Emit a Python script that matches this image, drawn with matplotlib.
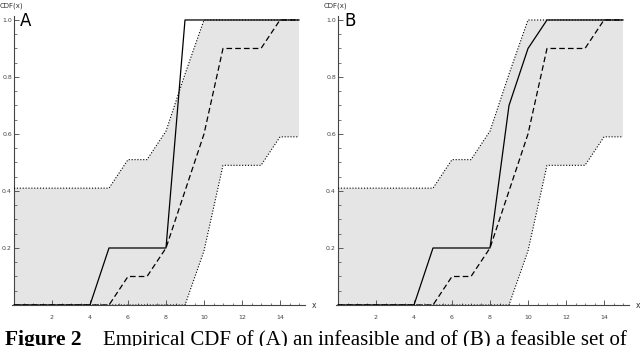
#!/usr/bin/env python3
# -*- coding: utf-8 -*-

import numpy as np
import matplotlib
matplotlib.use("Agg")
import matplotlib.pyplot as plt
from matplotlib.ticker import FixedLocator, MultipleLocator

DPI = 100
W, H = 640, 346

# bounds of the band (dotted lines)
upper_x = [0, 5, 6, 7, 8, 9, 10, 15]
upper_y = [0.41, 0.41, 0.51, 0.51, 0.61, 0.81, 1.0, 1.0]
lower_x = [0, 9, 10, 11, 13, 14, 15]
lower_y = [0, 0, 0.19, 0.49, 0.49, 0.59, 0.59]

# reference CDF (dashed), same on both panels
ref_x = [0, 5, 6, 7, 8, 9, 10, 11, 13, 14, 15]
ref_y = [0, 0, 0.1, 0.1, 0.2, 0.4, 0.6, 0.9, 0.9, 1.0, 1.0]

# empirical CDFs (solid)
a_x = [0, 4, 5, 8, 9, 15]
a_y = [0, 0, 0.2, 0.2, 1.0, 1.0]
b_x = [0, 4, 5, 8, 9, 10, 11, 15]
b_y = [0, 0, 0.2, 0.2, 0.7, 0.9, 1.0, 1.0]

x_ticks = [2, 4, 6, 8, 10, 12, 14]
y_ticks = [0.2, 0.4, 0.6, 0.8, 1.0]
y_tick_labels = ["0.2", "0.4", "0.6", "0.8", "1.0"]


def px(x, y):
    # pixel coords (from top-left) -> figure fraction
    return x / W, 1 - y / H


def panel(fig, left_px, cdf_x, cdf_y, letter):
    x0 = left_px - 1.9
    l, b = px(x0, 305)
    ax = fig.add_axes([l, b, 292.6 / W, 289.3 / H])
    ax.set_xlim(-0.1, 15.3)
    ax.set_ylim(0, 1.015)

    band_x = np.r_[upper_x, lower_x[::-1]]
    band_y = np.r_[upper_y, lower_y[::-1]]
    ax.fill(band_x, band_y, color="#e5e5e6", lw=0, zorder=1)

    ax.plot(upper_x, upper_y, color="black", lw=0.8, dashes=(1, 1.6), zorder=3)
    ax.plot(lower_x, lower_y, color="black", lw=0.8, dashes=(1, 1.6), zorder=3)
    ax.plot(ref_x, ref_y, color="black", lw=0.9, dashes=(4.5, 2.5), zorder=4)
    ax.plot(cdf_x, cdf_y, color="black", lw=0.9, zorder=5)

    for s in ["top", "right"]:
        ax.spines[s].set_visible(False)
    ax.spines["left"].set_position(("data", 0))
    ax.spines["bottom"].set_position(("data", 0))
    ax.spines["left"].set_linewidth(0.8)
    ax.spines["bottom"].set_linewidth(0.8)
    ax.spines["left"].set_color("#444444")
    ax.spines["bottom"].set_color("#444444")

    ax.xaxis.set_major_locator(FixedLocator(x_ticks))
    ax.xaxis.set_minor_locator(MultipleLocator(0.5))
    ax.yaxis.set_major_locator(FixedLocator(y_ticks))
    ax.set_yticklabels(y_tick_labels)
    ax.yaxis.set_minor_locator(MultipleLocator(0.05))
    ax.tick_params(which="major", direction="in", length=3.5, width=0.6,
                   labelsize=4.5, colors="#444444")
    ax.tick_params(axis="x", which="major", pad=7)
    ax.tick_params(axis="y", which="major", pad=1.5)
    ax.tick_params(which="minor", direction="in", length=1.8, width=0.5,
                   colors="#444444")
    ax.patch.set_visible(False)

    tx, ty = px(left_px + 6, 21)
    fig.text(tx, ty, letter, fontsize=12, va="center", ha="left",
             family="DejaVu Sans")
    tx, ty = px(left_px - 14, 6)
    fig.text(tx, ty, "CDF(x)", fontsize=5, va="center", ha="left",
             color="#333333")
    tx, ty = px(left_px + 298, 305)
    fig.text(tx, ty, "x", fontsize=5.5, va="center", ha="left",
             color="#333333")
    return ax


def main():
    fig = plt.figure(figsize=(W / DPI, H / DPI), dpi=DPI)

    panel(fig, 14, a_x, a_y, "A")
    panel(fig, 338, b_x, b_y, "B")

    x, y = px(5, 345)
    fig.text(x, y, "Figure 2", fontsize=15.5, fontweight="bold",
             family="Liberation Serif", va="baseline")
    x, y = px(103, 345)
    fig.text(x, y, "Empirical CDF of (A) an infeasible and of (B) a feasible set of",
             fontsize=15, family="Liberation Serif", va="baseline")

    fig.savefig("out.png", dpi=DPI)


if __name__ == "__main__":
    main()
